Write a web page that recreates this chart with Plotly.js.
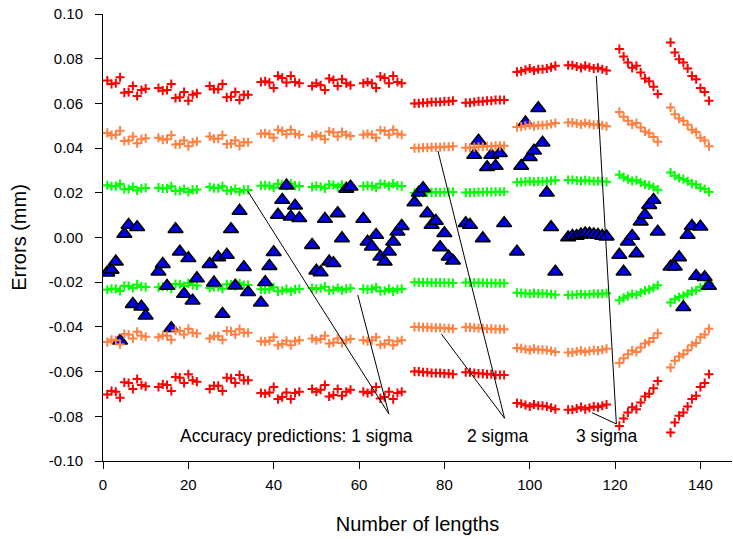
<!DOCTYPE html>
<html>
<head>
<meta charset="utf-8">
<script src="https://cdn.plot.ly/plotly-3.0.1.min.js"></script>
<style>
  html, body { margin: 0; padding: 0; background: #ffffff; }
  #chart { width: 733px; height: 539px; }
</style>
</head>
<body>
<div id="chart"></div>
<script>
// Length numbers (x)
const lengthNo = [
  1,2,3,4,5,6,7,8,9,10,
  13,14,15,16,17,18,19,20,21,22,
  25,26,27,28,29,30,31,32,33,34,
  37,38,39,40,41,42,43,44,45,46,
  49,50,51,52,53,54,55,56,57,58,
  61,62,63,64,65,66,67,68,69,70,
  73,74,75,76,77,78,79,80,81,82,
  85,86,87,88,89,90,91,92,93,94,
  97,98,99,100,101,102,103,104,105,106,
  109,110,111,112,113,114,115,116,117,118,
  121,122,123,124,125,126,127,128,129,130,
  133,134,135,136,137,138,139,140,141,142
];

// Predicted standard uncertainty (1 sigma, mm) of each length
const sigma = [
  0.0234,0.0229,0.0230,0.0239,0.0216,0.0217,0.0226,0.0211,0.0220,0.0222,
  0.0223,0.0219,0.0220,0.0229,0.0208,0.0209,0.0217,0.0204,0.0213,0.0215,
  0.0226,0.0221,0.0221,0.0229,0.0209,0.0210,0.0217,0.0205,0.0213,0.0213,
  0.0232,0.0233,0.0231,0.0223,0.0241,0.0238,0.0231,0.0241,0.0232,0.0230,
  0.0226,0.0230,0.0227,0.0220,0.0237,0.0235,0.0226,0.0236,0.0230,0.0227,
  0.0230,0.0232,0.0230,0.0223,0.0240,0.0238,0.0230,0.0241,0.0232,0.0230,
  0.0200,0.0200,0.0201,0.0201,0.0202,0.0202,0.0202,0.0203,0.0203,0.0204,
  0.0201,0.0201,0.0202,0.0203,0.0203,0.0204,0.0204,0.0205,0.0205,0.0205,
  0.0247,0.0248,0.0250,0.0252,0.0249,0.0251,0.0251,0.0252,0.0254,0.0256,
  0.0257,0.0257,0.0255,0.0253,0.0256,0.0254,0.0252,0.0253,0.0251,0.0249,
  0.0281,0.0270,0.0261,0.0253,0.0256,0.0246,0.0237,0.0233,0.0225,0.0214,
  0.0291,0.0276,0.0266,0.0261,0.0252,0.0241,0.0236,0.0223,0.0217,0.0204
];

// Measured errors (mm)
const measuredError = [
  -0.0157,-0.0145,-0.0108,-0.0462,0.0016,0.0056,-0.0298,0.0046,-0.0310,-0.0350,
  -0.0153,-0.0119,-0.0217,-0.0406,0.0037,-0.0064,-0.0253,-0.0093,-0.0283,-0.0183,
  -0.0119,-0.0202,-0.0089,-0.0342,-0.0078,0.0037,-0.0216,0.0119,-0.0133,-0.0245,
  -0.0292,-0.0200,-0.0128,-0.0066,0.0101,0.0168,0.0232,0.0093,0.0142,0.0086,
  -0.0034,-0.0149,-0.0156,0.0083,-0.0108,-0.0115,0.0108,-0.0004,0.0217,0.0227,
  0.0083,-0.0019,-0.0041,0.0011,-0.0086,-0.0108,-0.0064,-0.0019,0.0026,0.0051,
  0.0157,0.0200,0.0220,0.0108,0.0056,0.0074,-0.0044,0.0019,-0.0086,-0.0104,
  0.0064,0.0056,0.0369,0.0433,-0.0004,0.0314,0.0369,0.0320,0.0377,0.0064,
  -0.0064,0.0320,0.0514,0.0359,0.0388,0.0578,0.0424,0.0200,0.0046,-0.0153,
  0.0000,0.0007,0.0007,0.0013,0.0018,0.0016,0.0013,0.0011,0.0007,0.0004,
  -0.0078,-0.0153,-0.0019,0.0007,-0.0071,0.0071,0.0101,0.0145,0.0168,0.0026,
  -0.0131,-0.0131,-0.0089,-0.0312,0.0011,0.0051,-0.0172,0.0048,-0.0178,-0.0217
];

// Confidence multiples of the accuracy predictions
const sigmaLevels = [1, 2, 3];
const sigmaLabels = ["Accuracy predictions: 1 sigma", "2 sigma", "3 sigma"];

// Axis tick values
const xTicks = [0, 20, 40, 60, 80, 100, 120, 140];
const yTicks = [-0.10, -0.08, -0.06, -0.04, -0.02, 0.00, 0.02, 0.04, 0.06, 0.08, 0.10];

// ---------- presentation ----------
const FONT = "Liberation Sans, Arial, Helvetica, sans-serif";
const bandColors = {1: "#00ff00", 2: "#ff8040", 3: "#ff0000"};

function band(level, sign) {
  return {
    type: "scatter", mode: "markers",
    x: lengthNo,
    y: sigma.map(s => sign * level * s),
    marker: {symbol: "cross-thin", size: 6.5, color: bandColors[level],
             line: {color: bandColors[level], width: 2}},
    hoverinfo: "x+y", showlegend: false
  };
}

const traces = [];
traces.push(band(1, 1), band(1, -1));
traces.push({
  type: "scatter", mode: "markers",
  x: lengthNo, y: measuredError,
  marker: {symbol: "triangle-up", size: 13, color: "#0000ee",
           line: {color: "#000000", width: 1.6}},
  showlegend: false
});
traces.push(band(2, 1), band(2, -1), band(3, 1), band(3, -1));

// leader lines for the sigma labels: [x0, y0, x1, y1] in data units
const leaderLines = [
  [33.9, 0.0208, 67.0, -0.0790],
  [59.7, -0.0257, 67.0, -0.0790],
  [78.5, 0.0387, 94.1, -0.0809],
  [79.3, -0.0432, 94.1, -0.0809],
  [115.6, 0.0723, 120.3, -0.0834],
  [114.6, -0.0784, 120.3, -0.0834]
];
const labelPos = [[45.3, -0.0888], [92.5, -0.0888], [118.2, -0.0888]];

const shapes = leaderLines.map(l => ({
  type: "line", xref: "x", yref: "y",
  x0: l[0], y0: l[1], x1: l[2], y1: l[3],
  line: {color: "#000000", width: 1}
}));

const annotations = sigmaLabels.map((t, i) => ({
  text: t, x: labelPos[i][0], y: labelPos[i][1], xref: "x", yref: "y",
  showarrow: false, xanchor: "center", yanchor: "middle",
  font: {family: FONT, size: 17.5, color: "#000000"}
}));

const layout = {
  width: 733, height: 539,
  margin: {l: 103, r: 1, t: 14, b: 78, pad: 0},
  paper_bgcolor: "#ffffff", plot_bgcolor: "#ffffff",
  font: {family: FONT, size: 15, color: "#000000"},
  showlegend: false,
  xaxis: {
    range: [0, 147.4], tickvals: xTicks, ticktext: xTicks.map(String),
    showgrid: false, zeroline: false, showline: true, linecolor: "#000000", linewidth: 1,
    ticks: "outside", ticklen: 7, tickcolor: "#000000", tickwidth: 1,
    ticklabelstandoff: 3,
    tickfont: {family: FONT, size: 15, color: "#000000"},
    title: {text: "Number of lengths", font: {family: FONT, size: 20, color: "#000000"}, standoff: 24}
  },
  yaxis: {
    range: [-0.1, 0.1], tickvals: yTicks, ticktext: yTicks.map(v => v.toFixed(2)),
    showgrid: false, zeroline: false, showline: true, linecolor: "#000000", linewidth: 1,
    ticks: "outside", ticklen: 7, tickcolor: "#000000", tickwidth: 1,
    ticklabelstandoff: 9,
    tickfont: {family: FONT, size: 15, color: "#000000"},
    title: {text: "Errors (mm)", font: {family: FONT, size: 20, color: "#000000"}, standoff: 16}
  },
  shapes: shapes,
  annotations: annotations
};

Plotly.newPlot("chart", traces, layout, {staticPlot: true, displayModeBar: false});
</script>
</body>
</html>
